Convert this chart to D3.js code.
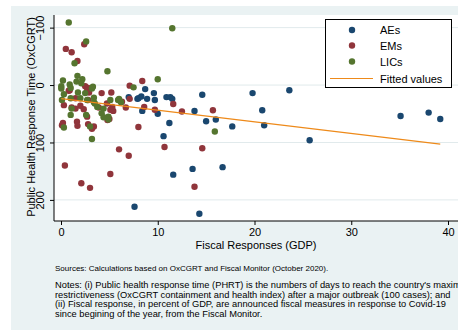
<!DOCTYPE html>
<html lang="en">
<head>
<meta charset="UTF-8">
<title>PHRT vs Fiscal Responses</title>
<script src="https://d3js.org/d3.v7.min.js"></script>
<style>
    body { margin: 0; background: #fff; }
    svg text { font-family: "Liberation Sans", Arial, sans-serif; fill: #000; }
    .axis-title { font-size: 11px; }
    .legend-text { font-size: 11px; }
    .note { font-size: 9.3px; }
    .note.first { font-size: 8px; }
</style>
</head>
<body>
<script>
    // values: [fiscal response % GDP, response time days]
    const aes = [
        [7.0, 21], [7.9, 24], [8.0, 23], [8.3, 20], [8.4, 45], [8.7, 7], [8.9, 24], [9.6, 14],
        [9.7, 26], [10.0, 50], [10.6, 89], [10.9, 21], [11.2, 66], [11.3, 21], [11.5, 24],
        [11.6, 156], [13.6, 146], [13.8, 45], [14.3, 224], [14.6, 17], [15.0, 63], [16.0, 60],
        [16.7, 143], [17.7, 72], [19.8, 14], [20.8, 44], [21.0, 70], [23.6, 9], [25.7, 96],
        [35.1, 54], [38.0, 48], [39.2, 59], [7.6, 212]
    ];
    const ems = [
        [0.5, -63], [1.1, -57], [2.4, -71], [1.7, -42], [8.4, -7], [7.1, 1], [2.5, 2], [2.8, 5],
        [0.8, 10], [0.9, 9], [2.7, 10], [2.9, 13], [4.2, 14], [5.2, 13], [1.5, 23], [2.8, 26],
        [0.3, 35], [2.0, 36], [2.35, 42], [1.1, 39], [1.5, 41], [3.9, 39], [4.75, 32], [5.1, 43],
        [5.4, 45], [5.3, 38], [6.3, 29], [6.7, 39], [7.1, 24], [8.6, 38], [9.7, 43], [11.6, 33],
        [12.5, 46], [15.7, 44], [8.0, 73], [2.7, 55], [0.1, 70], [1.65, 64], [2.8, 68], [3.4, 72],
        [3.2, 76], [1.7, 71], [0.2, 66], [4.8, 61], [5.0, 59], [6.0, 112], [7.0, 123], [10.7, 108],
        [0.4, 140], [5.1, 155], [2.1, 171], [3.0, 179], [13.8, 177], [14.6, 110]
    ];
    const lics = [
        [0.8, -109], [11.5, -99], [2.6, -76], [1.4, -38], [4.8, -24], [1.7, -16], [10.0, -10],
        [0.2, -8], [2.2, -10], [2.1, -3], [0.9, -1], [1.6, -6], [0.03, 2], [3.3, 3], [7.5, 4],
        [0.03, 6], [1.0, 5], [3.2, 6], [1.75, 13], [2.5, 14], [0.3, 16], [0.1, 26], [1.0, 23],
        [2.0, 23], [2.7, 26], [3.4, 22], [3.5, 32], [3.4, 30], [1.1, 41], [4.4, 41], [4.2, 49],
        [1.0, 52], [2.6, 52], [4.9, 55], [4.4, 56], [4.9, 60], [0.3, 74], [3.0, 72], [3.2, 94],
        [5.1, 26], [5.9, 26], [6.2, 30], [6.0, 24], [3.75, 38], [15.9, 81]
    ];
    const fitX = [0.03, 39.2];
    const fitY = [23.5, 103];
    const xTicks = [0, 10, 20, 30, 40];
    const yTicks = [-100, 0, 100, 200];
    const seriesNames = ["AEs", "EMs", "LICs"];
    const colors = ["#1a476f", "#90353b", "#55752f"];
    const fitColor = "#ee8a1a";
    const notes = [
        "Sources: Calculations based on OxCGRT and Fiscal Monitor (October 2020).",
        "Notes: (i) Public health response time (PHRT) is the numbers of days to reach the country's maximum",
        "restrictiveness (OxCGRT containment and health index) after a major outbreak (100 cases); and",
        "(ii) Fiscal response, in percent of GDP, are announced fiscal measures in response to Covid-19",
        "since begining of the year, from the Fiscal Monitor."
    ];

    const W = 458, H = 332;
    const plot = { left: 54, right: 458, top: 15, bottom: 221 };

    const svg = d3.select("body").append("svg")
        .attr("width", W)
        .attr("height", H);

    // graph region background
    svg.append("rect")
        .attr("x", 11).attr("y", 6)
        .attr("width", W - 11).attr("height", 324)
        .attr("fill", "#eaf2f3");

    svg.append("rect")
        .attr("x", plot.left).attr("y", plot.top)
        .attr("width", plot.right - plot.left).attr("height", plot.bottom - plot.top)
        .attr("fill", "#fff");

    const x = d3.scaleLinear().domain([0, 40]).range([61, 448]);
    const y = d3.scaleLinear().domain([-122, 235]).range([plot.top, 220]);

    // grid lines
    svg.selectAll(".grid")
        .data(yTicks)
        .enter().append("line")
        .attr("x1", plot.left).attr("x2", plot.right)
        .attr("y1", d => y(d)).attr("y2", d => y(d))
        .attr("stroke", "#e1eaec")
        .attr("stroke-width", 1);

    // axes
    const xAxis = svg.append("g")
        .attr("transform", "translate(0," + plot.bottom + ")")
        .call(d3.axisBottom(x).tickValues(xTicks).tickSize(4).tickPadding(3));
    xAxis.select(".domain").attr("d", "M" + plot.left + ",0H" + plot.right).attr("stroke", "#000");
    xAxis.selectAll("text").style("font-size", "11px").attr("fill", "#000");

    const yAxis = svg.append("g")
        .attr("transform", "translate(" + plot.left + ",0)")
        .call(d3.axisLeft(y).tickValues(yTicks).tickSize(4));
    yAxis.select(".domain").attr("d", "M0," + plot.top + "V" + plot.bottom).attr("stroke", "#000");
    // Stata style: tick labels turned vertical
    yAxis.selectAll(".tick text")
        .style("font-size", "11px")
        .attr("fill", "#000")
        .attr("text-anchor", "middle")
        .attr("dy", 0)
        .attr("transform", "rotate(-90)")
        .attr("x", 0).attr("y", -10);

    svg.append("text")
        .attr("class", "axis-title")
        .attr("text-anchor", "middle")
        .attr("transform", "translate(35," + 117 + ") rotate(-90)")
        .text("Public Health Response Time (OxCGRT)");

    svg.append("text")
        .attr("class", "axis-title")
        .attr("x", 256).attr("y", 249)
        .attr("text-anchor", "middle")
        .text("Fiscal Responses (GDP)");

    // points
    [aes, ems, lics].forEach(function (data, i) {
        svg.append("g").selectAll("circle")
            .data(data)
            .enter().append("circle")
            .attr("cx", d => x(d[0]))
            .attr("cy", d => y(d[1]))
            .attr("r", 3.2)
            .attr("fill", colors[i]);
    });

    // fitted line
    const line = d3.line().x(d => x(d[0])).y(d => y(d[1]));
    svg.append("path")
        .datum(fitX.map((v, i) => [v, fitY[i]]))
        .attr("d", line)
        .attr("fill", "none")
        .attr("stroke", fitColor)
        .attr("stroke-width", 1.2);

    // legend
    const lg = svg.append("g");
    lg.append("rect")
        .attr("x", 325.5).attr("y", 19.5)
        .attr("width", 126).attr("height", 68)
        .attr("fill", "#fff").attr("stroke", "#000").attr("stroke-width", 1);
    const rowY = [30, 45.5, 61.5, 78.5];
    seriesNames.forEach(function (name, i) {
        lg.append("circle").attr("cx", 352).attr("cy", rowY[i]).attr("r", 3.2).attr("fill", colors[i]);
        lg.append("text").attr("class", "legend-text").attr("x", 380).attr("y", rowY[i] + 4).text(name);
    });
    lg.append("line")
        .attr("x1", 330).attr("x2", 373)
        .attr("y1", rowY[3]).attr("y2", rowY[3])
        .attr("stroke", fitColor).attr("stroke-width", 1.2);
    lg.append("text").attr("class", "legend-text").attr("x", 380).attr("y", rowY[3] + 4).text("Fitted values");

    // notes
    const noteY = [271, 288, 297.5, 307, 316.5];
    svg.selectAll(".note")
        .data(notes)
        .enter().append("text")
        .attr("class", (d, i) => i === 0 ? "note first" : "note")
        .attr("x", 55)
        .attr("y", (d, i) => noteY[i])
        .text(d => d);
</script>
</body>
</html>
